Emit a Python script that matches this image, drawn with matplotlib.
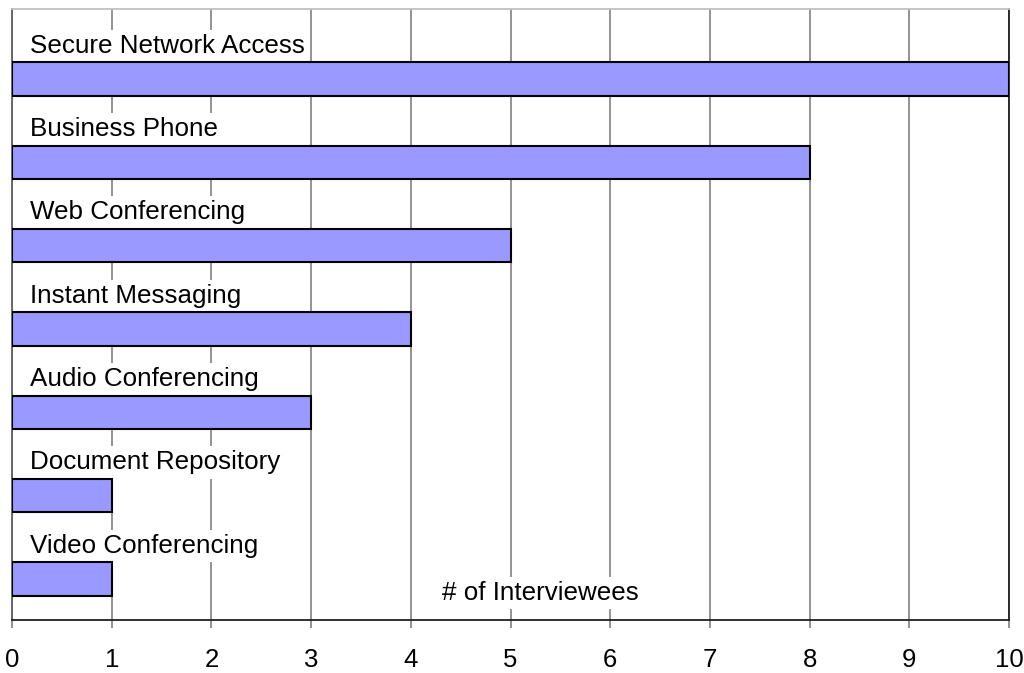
import matplotlib.pyplot as plt

plt.rcParams['font.family'] = ['Liberation Sans', 'DejaVu Sans']

# categories listed bottom to top
categories = ["Video Conferencing", "Document Repository", "Audio Conferencing",
              "Instant Messaging", "Web Conferencing", "Business Phone",
              "Secure Network Access"]
counts = [1, 1, 3, 4, 5, 8, 10]
xticks = list(range(0, 11))

fig = plt.figure(figsize=(10.24, 6.73), dpi=100)
ax = fig.add_axes([12 / 1024, 53 / 673, 997 / 1024, 611 / 673])
ax.set_axisbelow(True)

ypos = list(range(len(categories)))
ax.barh(ypos, counts, height=0.4, color="#9999FF", edgecolor="black",
        linewidth=1.5, zorder=3)

# white box behind each label hides the gridlines (but sits under the bars)
for y, name in zip(ypos, categories):
    ax.text(0.18, y + 0.40, name, fontsize=18.7, va="center", ha="left", zorder=2,
            bbox=dict(facecolor="white", edgecolor="none", pad=3))

ax.set_xlim(0, 10)
ax.set_ylim(-0.49, 6.84)
ax.set_xticks(xticks)
ax.set_xticklabels([str(t) for t in xticks], fontsize=18.5)
ax.set_yticks([])
ax.xaxis.grid(True, color="#808080", linewidth=1.2)
ax.tick_params(axis="x", length=6, width=1.2, color="#808080", pad=14)

ax.spines["left"].set_color("#606060")
ax.spines["bottom"].set_color("#202020")
ax.spines["right"].set_color("#202020")
ax.spines["top"].set_color("#c0c0c0")
for s in ax.spines.values():
    s.set_linewidth(1.3)

ax.text(0.5296, 0.044, "# of Interviewees", transform=ax.transAxes,
        fontsize=18.7, ha="center", va="center", zorder=2,
        bbox=dict(facecolor="white", edgecolor="none", pad=3))

fig.savefig("out.png", dpi=100)
